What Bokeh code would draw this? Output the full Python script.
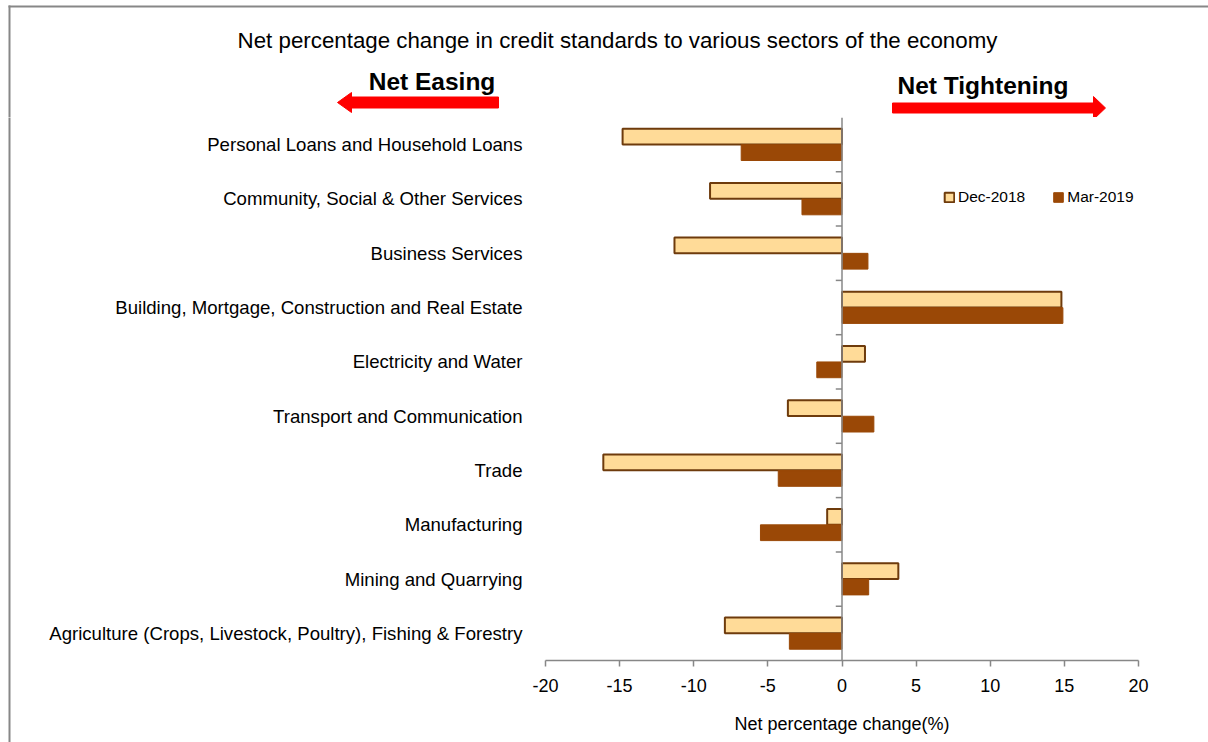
from bokeh.plotting import figure
from bokeh.models import (ColumnDataSource, FactorRange, FixedTicker, Span,
                          Legend, LegendItem, Range1d)
from bokeh.layouts import column, row
from bokeh.transform import dodge
from bokeh.core.properties import value
from bokeh.embed import file_html
from bokeh.resources import INLINE

# ---------------- data ----------------
sectors = [
    "Personal Loans and Household Loans",
    "Community, Social & Other Services",
    "Business Services",
    "Building, Mortgage, Construction and Real Estate",
    "Electricity and Water",
    "Transport and Communication",
    "Trade",
    "Manufacturing",
    "Mining and Quarrying",
    "Agriculture (Crops, Livestock, Poultry), Fishing & Forestry",
]
dec_2018 = [-14.8, -8.9, -11.3, 14.8, 1.55, -3.65, -16.1, -1.0, 3.8, -7.9]
mar_2019 = [-6.8, -2.7, 1.75, 14.9, -1.7, 2.15, -4.3, -5.5, 1.8, -3.55]
series_names = ["Dec-2018", "Mar-2019"]
x_ticks = [-20, -15, -10, -5, 0, 5, 10, 15, 20]

title_text = "Net percentage change in credit standards to various sectors of the economy"
x_title = "Net percentage change(%)"
easing_text = "Net Easing"
tight_text = "Net Tightening"

# ---------------- layout constants ----------------
W, H = 1208, 742
HEAD = 117            # header height (title, arrows)
STRIP = 12            # left strip carrying the outer border line
FL, FR, FB = 545, 1138, 660   # frame edges in page px
FONT = "Liberation Sans"
GRAY = "#878787"
DEC_FILL, DEC_LINE = "#FFDB98", "#6E3B0C"
MAR_FILL = "#9A4806"
RED = "#FF0000"


def blank(w, h, xr, yr):
    f = figure(width=w, height=h, x_range=xr, y_range=yr,
               output_backend="svg", toolbar_location=None,
               x_axis_location=None, y_axis_location=None,
               min_border=0, min_border_left=0, min_border_right=0,
               min_border_top=0, min_border_bottom=0)
    f.outline_line_color = None
    f.grid.grid_line_color = None
    f.background_fill_color = "white"
    f.border_fill_color = "white"
    f.frame_align = False
    return f


# ---------------- header: title, Net Easing / Net Tightening arrows ----------------
head = blank(W, HEAD, Range1d(0, W), Range1d(HEAD, 0))
head.segment(x0=[8, 9], y0=[6, 5], x1=[W, 9], y1=[6, HEAD], line_color=GRAY, line_width=2)
easing_arrow = [(337, 102), (351, 92), (351, 96.5), (498, 96.5), (498, 107.5),
                (351, 107.5), (351, 112)]
tight_arrow = [(892, 102.5), (1093, 102.5), (1093, 96), (1105, 107.5), (1093, 119),
               (1093, 112.5), (892, 112.5)]
head.patches(xs=[[a for a, b in easing_arrow], [a for a, b in tight_arrow]],
             ys=[[b for a, b in easing_arrow], [b for a, b in tight_arrow]],
             fill_color=RED, line_color=RED, line_width=1)
head.text(x=[617], y=[39.5], text=[title_text], text_align="center",
          text_baseline="alphabetic", text_font=value(FONT),
          text_font_size=value("22.3px"), text_color="black")
head.text(x=[431.5, 982.5], y=[80.5, 85], text=[easing_text, tight_text],
          text_align="center", text_baseline="alphabetic", text_font=value(FONT),
          text_font_size=value("24.5px"), text_font_style="bold", text_color="black")

# ---------------- left strip: outer border line ----------------
strip = blank(STRIP, H - HEAD, Range1d(0, STRIP), Range1d(0, H - HEAD))
strip.segment(x0=[9], y0=[-5], x1=[9], y1=[H - HEAD + 5], line_color=GRAY, line_width=2)

# ---------------- main chart ----------------
factors = list(reversed(sectors))
source = ColumnDataSource(dict(sector=sectors, dec=dec_2018, mar=mar_2019,
                               zero=[0] * len(sectors)))

p = figure(width=W - STRIP, height=H - HEAD, y_range=FactorRange(factors=factors),
           x_range=Range1d(x_ticks[0], x_ticks[-1]),
           output_backend="svg", toolbar_location=None,
           min_border_left=FL - STRIP, min_border_right=W - FR,
           min_border_top=0, min_border_bottom=H - FB)
p.outline_line_color = None
p.xgrid.grid_line_color = None
p.ygrid.grid_line_color = None
p.background_fill_color = "white"
p.border_fill_color = "white"
p.frame_align = False

bh = 0.29
r_dec = p.hbar(y=dodge("sector", 0.147, range=p.y_range), left="zero", right="dec",
               height=bh, source=source, fill_color=DEC_FILL, line_color=DEC_LINE,
               line_width=2)
r_mar = p.hbar(y=dodge("sector", -0.147, range=p.y_range), left="zero", right="mar",
               height=bh, source=source, fill_color=MAR_FILL, line_color=MAR_FILL,
               line_width=1)

# zero line with category-boundary ticks
p.add_layout(Span(location=0, dimension="height", line_color=GRAY, line_width=1.5))
nb = len(sectors) - 1
tick_src = ColumnDataSource(dict(sector=factors[1:], x0=[-0.42] * nb, x1=[0] * nb))
p.segment(x0="x0", x1="x1",
          y0=dodge("sector", -0.5, range=p.y_range),
          y1=dodge("sector", -0.5, range=p.y_range),
          source=tick_src, line_color=GRAY, line_width=1.5)

# x axis
xa = p.xaxis[0]
xa.ticker = FixedTicker(ticks=x_ticks)
xa.major_label_overrides = {t: str(t) for t in x_ticks}
xa.minor_tick_line_color = None
xa.axis_line_color = GRAY
xa.axis_line_width = 1.5
xa.major_tick_line_color = GRAY
xa.major_tick_line_width = 1.5
xa.major_tick_out = 6
xa.major_tick_in = 0
xa.major_label_text_font = FONT
xa.major_label_text_font_size = "18px"
xa.major_label_text_color = "black"
xa.major_label_standoff = 12
xa.axis_label = x_title
xa.axis_label_text_font = FONT
xa.axis_label_text_font_size = "18px"
xa.axis_label_text_font_style = "normal"
xa.axis_label_text_color = "black"
xa.axis_label_standoff = 19

# y axis (category labels)
ya = p.yaxis[0]
ya.axis_line_color = None
ya.major_tick_line_color = None
ya.minor_tick_line_color = None
ya.major_label_text_font = FONT
ya.major_label_text_font_size = "18.6px"
ya.major_label_text_color = "black"
ya.major_label_standoff = 17

# legend
legend = Legend(items=[LegendItem(label=series_names[0], renderers=[r_dec]),
                       LegendItem(label=series_names[1], renderers=[r_mar])],
                location=(943 - FL, FB - 206), orientation="horizontal",
                glyph_width=12, glyph_height=12, label_standoff=3, spacing=27,
                padding=0, margin=0, border_line_color=None,
                background_fill_alpha=0, label_text_font=FONT,
                label_text_font_size="15.5px", label_text_color="black")
p.add_layout(legend)

layout = column(head, row(strip, p, spacing=0), spacing=0)
open("out.html", "w").write(file_html(layout, INLINE))
